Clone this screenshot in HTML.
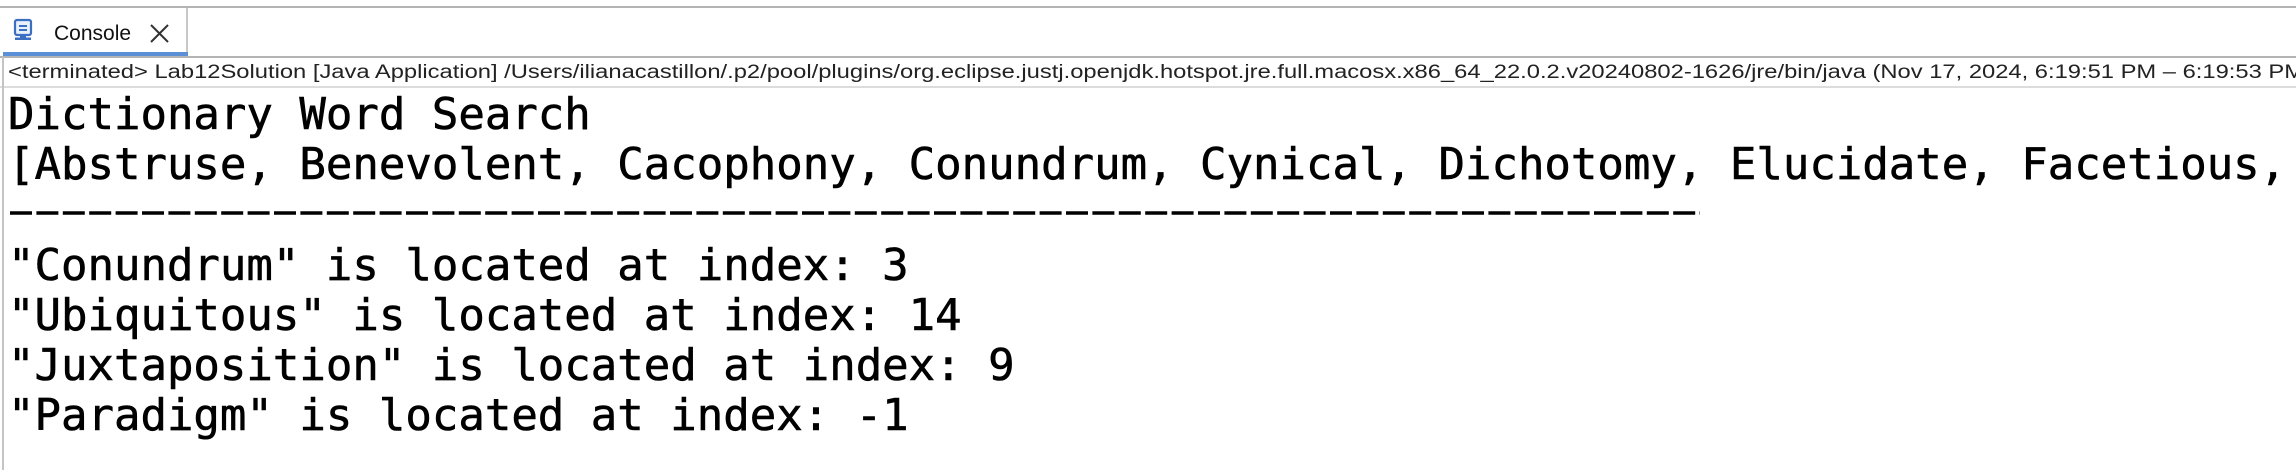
<!DOCTYPE html>
<html><head><meta charset="utf-8"><style>
html,body{margin:0;padding:0;background:#fff;width:2296px;height:470px;overflow:hidden}
svg{display:block}
</style></head><body>
<svg width="2296" height="470" viewBox="0 0 2296 470" xmlns="http://www.w3.org/2000/svg">
<rect width="2296" height="470" fill="#fff"/>
<rect x="0" y="6" width="2296" height="2" fill="#b4b4b4"/>
<rect x="3" y="8" width="184" height="49" fill="#fff"/>
<rect x="186" y="8" width="2" height="49" fill="#c8c8c8"/>
<rect x="3" y="52" width="185" height="4" fill="#5b8fd6"/>
<rect x="0" y="56" width="2296" height="2" fill="#b4b4b4"/>
<!-- icon -->
<rect x="15" y="20" width="16" height="15" rx="2" fill="#e8f0fb" stroke="#3b6fc2" stroke-width="2.2"/>
<rect x="19" y="25" width="8" height="2" fill="#3b6fc2"/>
<rect x="19" y="29" width="8" height="2" fill="#3b6fc2"/>
<rect x="20" y="35" width="6" height="3" fill="#3b6fc2"/>
<rect x="15" y="37.5" width="16" height="2.5" fill="#3b6fc2"/>
<text x="54" y="40" font-family="Liberation Sans, sans-serif" font-size="21" fill="#111">Console</text>
<path d="M151 25 L168 42 M168 25 L151 42" stroke="#333" stroke-width="2"/>
<text x="8" y="78" font-family="Liberation Sans, sans-serif" font-size="19" fill="#222" textLength="2296" lengthAdjust="spacingAndGlyphs">&lt;terminated&gt; Lab12Solution [Java Application] /Users/ilianacastillon/.p2/pool/plugins/org.eclipse.justj.openjdk.hotspot.jre.full.macosx.x86_64_22.0.2.v20240802-1626/jre/bin/java  (Nov 17, 2024, 6:19:51 PM – 6:19:53 PM</text>
<rect x="0" y="86" width="2296" height="2" fill="#dcdcdc"/>
<rect x="2" y="57" width="2" height="413" fill="#c4c4c4"/>
<g font-family="DejaVu Sans Mono, Liberation Mono, monospace" font-size="44" fill="#000" stroke="#000" stroke-width="0.6">
<text x="8" y="129">Dictionary Word Search</text>
<text x="8" y="179">[Abstruse, Benevolent, Cacophony, Conundrum, Cynical, Dichotomy, Elucidate, Facetious, Gregarious]</text>
<text x="8" y="280">"Conundrum" is located at index: 3</text>
<text x="8" y="330">"Ubiquitous" is located at index: 14</text>
<text x="8" y="380">"Juxtaposition" is located at index: 9</text>
<text x="8" y="430">"Paradigm" is located at index: -1</text>
</g>
<line x1="10" y1="213" x2="1700" y2="213" stroke="#000" stroke-width="3.5" stroke-dasharray="22 4.4"/>
</svg>
</body></html>
